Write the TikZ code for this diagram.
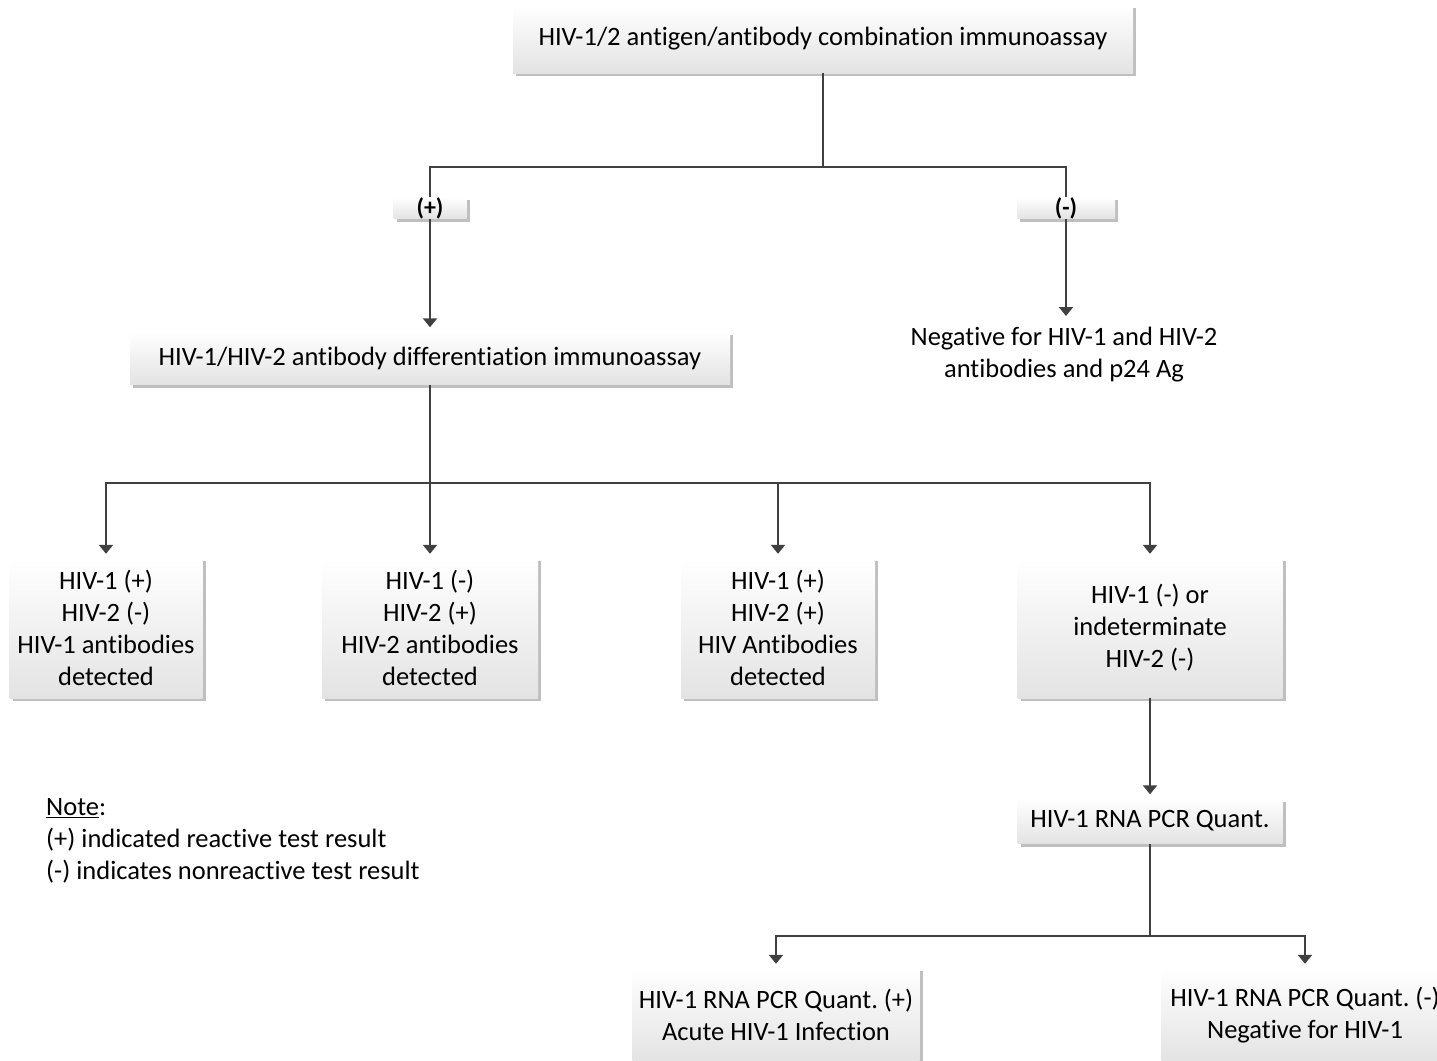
\documentclass[tikz,border=0pt]{standalone}
\usepackage{fontspec}
\setmainfont[Ligatures=NoCommon]{Carlito}
\usetikzlibrary{arrows.meta,shadows}
\frenchspacing
\begin{document}
\begin{tikzpicture}[x=1pt,y=-1pt,
  every node/.style={font=\fontsize{26.5}{32}\selectfont, text=black, inner sep=0pt, align=center},
  box/.style={top color=white, bottom color=black!11,
    drop shadow={shadow xshift=3pt, shadow yshift=-3pt, fill=black!25, opacity=1}},
  lbl/.style={box, font=\fontsize{24}{24}\selectfont\bfseries},
  conn/.style={draw=black!75, line width=2.2pt},
  arr/.style={conn, -{Triangle[width=14pt,length=9pt]}, shorten >=4pt}]
\useasboundingbox (0,0) rectangle (1437,1060);
\clip (0,0) rectangle (1437,1060);

\node[box, minimum width=620pt, minimum height=68pt] (top) at (823,39) {HIV-1/2 antigen/antibody combination immunoassay};
\node[lbl, minimum width=73pt, minimum height=21pt] (plus) at (430,208) {(+)};
\node[lbl, minimum width=98pt, minimum height=21pt] (minus) at (1066,208) {(-)};
\node[box, minimum width=600pt, minimum height=53pt] (diff) at (430,358) {HIV-1/HIV-2 antibody differentiation immunoassay};
\node[minimum width=340pt, minimum height=72pt] (neg) at (1064,355) {Negative for HIV-1 and HIV-2\\antibodies and p24 Ag};

\node[box, minimum width=193pt, minimum height=140pt] (b1) at (106,628) {HIV-1 (+)\\HIV-2 (-)\\HIV-1 antibodies\\detected};
\node[box, minimum width=216pt, minimum height=140pt] (b2) at (430,628) {HIV-1 (-)\\HIV-2 (+)\\HIV-2 antibodies\\detected};
\node[box, minimum width=194pt, minimum height=140pt] (b3) at (778,628) {HIV-1 (+)\\HIV-2 (+)\\HIV Antibodies\\detected};
\node[box, minimum width=265pt, minimum height=140pt] (b4) at (1150,628) {HIV-1 (-) or\\indeterminate\\HIV-2 (-)};

\node[box, minimum width=265pt, minimum height=45pt] (pcr) at (1150,821) {HIV-1 RNA PCR Quant.};

\node[box, minimum width=287pt, minimum height=94pt] (c1) at (776,1015) {HIV-1 RNA PCR Quant. (+)\\Acute HIV-1 Infection};
\node[box, minimum width=287pt, minimum height=94pt] (c2) at (1305,1015) {HIV-1 RNA PCR Quant. (-)\\Negative for HIV-1};

\node[anchor=north west, align=left] (note) at (46,798) {\underline{Note}:\\(+) indicated reactive test result\\(-) indicates nonreactive test result};

\coordinate (j1) at (823,167);
\coordinate (j2) at (430,483);
\coordinate (j3) at (1150,936);

\draw[conn] (top.south) -- (j1);
\draw[conn] (plus.north) |- (j1) -| (minus.north);
\draw[arr] (plus.south) -- (diff.north);
\draw[arr] (minus.south) -- (1066,320);
\draw[conn] (diff.south) -- (j2);
\draw[arr] (j2) -| (b1.north);
\draw[arr] (j2) -- (b2.north);
\draw[arr] (j2) -| (b3.north);
\draw[arr] (j2) -| (b4.north);
\draw[arr] (b4.south) -- (pcr.north);
\draw[conn] (pcr.south) -- (j3);
\draw[arr] (j3) -| (c1.north);
\draw[arr] (j3) -| (c2.north);
\end{tikzpicture}
\end{document}
